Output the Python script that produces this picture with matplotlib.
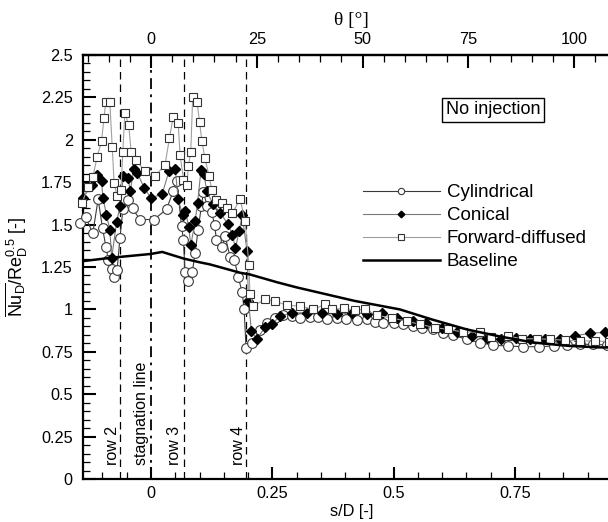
import matplotlib
matplotlib.use('Agg')
import matplotlib.pyplot as plt
import numpy as np
from matplotlib.ticker import MultipleLocator, FixedLocator, FuncFormatter

plt.rcParams['font.family'] = ['Liberation Sans', 'DejaVu Sans']
plt.rcParams['mathtext.fontset'] = 'custom'
plt.rcParams['mathtext.rm'] = 'Liberation Sans'
plt.rcParams['mathtext.it'] = 'Liberation Sans:italic'

# (s/D, Nu/Re^0.5)
cylindrical = [(-0.146, 1.51), (-0.135, 1.545), (-0.120, 1.45), (-0.109, 1.65), (-0.100, 1.48),
               (-0.093, 1.37), (-0.088, 1.29), (-0.081, 1.24), (-0.077, 1.19), (-0.070, 1.23),
               (-0.064, 1.42), (-0.058, 1.59), (-0.048, 1.645), (-0.038, 1.595), (-0.023, 1.53),
               (0.006, 1.53), (0.032, 1.59), (0.046, 1.70), (0.053, 1.76), (0.063, 1.49),
               (0.067, 1.41), (0.070, 1.22), (0.077, 1.17), (0.085, 1.22), (0.091, 1.33),
               (0.097, 1.47), (0.104, 1.61), (0.108, 1.69), (0.116, 1.61), (0.125, 1.575),
               (0.131, 1.50), (0.135, 1.41), (0.146, 1.37), (0.153, 1.43), (0.163, 1.31),
               (0.172, 1.29), (0.180, 1.19), (0.188, 1.10), (0.192, 1.00), (0.196, 0.77),
               (0.208, 0.80), (0.225, 0.88), (0.239, 0.92), (0.256, 0.95), (0.273, 0.965),
               (0.290, 0.96), (0.307, 0.95), (0.328, 0.957), (0.345, 0.955), (0.362, 0.945),
               (0.383, 0.95), (0.403, 0.945), (0.424, 0.94), (0.445, 0.945), (0.462, 0.925),
               (0.479, 0.92), (0.500, 0.918), (0.520, 0.912), (0.541, 0.90), (0.558, 0.89),
               (0.582, 0.882), (0.603, 0.863), (0.623, 0.847), (0.651, 0.824), (0.678, 0.804),
               (0.706, 0.788), (0.737, 0.784), (0.768, 0.78), (0.799, 0.78), (0.830, 0.784),
               (0.857, 0.788), (0.885, 0.794), (0.912, 0.794), (0.940, 0.79)]

conical = [(-0.140, 1.657), (-0.122, 1.735), (-0.111, 1.794), (-0.102, 1.755), (-0.099, 1.657),
           (-0.092, 1.559), (-0.085, 1.47), (-0.081, 1.304), (-0.071, 1.514), (-0.064, 1.608),
           (-0.057, 1.784), (-0.047, 1.775), (-0.043, 1.696), (-0.035, 1.828), (-0.028, 1.804),
           (-0.014, 1.716), (0.000, 1.657), (0.023, 1.68), (0.037, 1.814), (0.050, 1.828),
           (0.056, 1.651), (0.065, 1.559), (0.071, 1.578), (0.078, 1.485), (0.082, 1.377),
           (0.091, 1.52), (0.096, 1.627), (0.103, 1.82), (0.109, 1.80), (0.115, 1.696),
           (0.128, 1.62), (0.143, 1.569), (0.158, 1.505), (0.168, 1.44), (0.174, 1.36),
           (0.182, 1.465), (0.188, 1.555), (0.198, 1.343), (0.201, 1.05), (0.207, 0.872),
           (0.218, 0.824), (0.235, 0.894), (0.249, 0.912), (0.266, 0.96), (0.290, 0.98),
           (0.321, 0.98), (0.352, 0.98), (0.383, 0.97), (0.414, 0.98), (0.445, 0.975),
           (0.476, 0.976), (0.507, 0.95), (0.541, 0.93), (0.568, 0.92), (0.600, 0.89),
           (0.630, 0.865), (0.661, 0.843), (0.692, 0.833), (0.722, 0.826), (0.752, 0.833),
           (0.781, 0.824), (0.812, 0.826), (0.843, 0.826), (0.874, 0.845), (0.905, 0.859),
           (0.936, 0.865)]

forward_diffused = [(-0.142, 1.63), (-0.130, 1.72), (-0.120, 1.78), (-0.111, 1.90), (-0.102, 1.99),
                    (-0.097, 2.13), (-0.093, 2.225), (-0.085, 2.225), (-0.080, 1.96), (-0.076, 1.745),
                    (-0.070, 1.667), (-0.062, 1.706), (-0.058, 1.93), (-0.054, 2.157), (-0.046, 2.088),
                    (-0.041, 1.93), (-0.030, 1.88), (-0.013, 1.814), (0.008, 1.784), (0.029, 1.853),
                    (0.038, 2.01), (0.046, 2.137), (0.056, 2.10), (0.060, 1.91), (0.067, 1.765),
                    (0.074, 1.735), (0.077, 1.843), (0.082, 1.93), (0.086, 2.255), (0.095, 2.22),
                    (0.100, 2.107), (0.105, 1.99), (0.111, 1.892), (0.120, 1.784), (0.125, 1.706),
                    (0.134, 1.647), (0.146, 1.625), (0.156, 1.598), (0.168, 1.569), (0.184, 1.651),
                    (0.194, 1.52), (0.202, 1.259), (0.204, 1.088), (0.211, 1.02), (0.235, 1.059),
                    (0.256, 1.049), (0.280, 1.024), (0.307, 1.02), (0.335, 1.00), (0.359, 1.03),
                    (0.373, 1.00), (0.397, 1.006), (0.420, 0.996), (0.441, 1.00), (0.465, 0.965),
                    (0.496, 0.95), (0.527, 0.93), (0.555, 0.912), (0.586, 0.892), (0.613, 0.882),
                    (0.644, 0.866), (0.678, 0.866), (0.702, 0.839), (0.737, 0.843), (0.764, 0.827),
                    (0.795, 0.827), (0.823, 0.824), (0.854, 0.818), (0.885, 0.814), (0.915, 0.814),
                    (0.945, 0.81)]

baseline = [(-0.142, 1.284), (-0.084, 1.304), (0.000, 1.327), (0.023, 1.339), (0.067, 1.30),
            (0.100, 1.278), (0.122, 1.265), (0.184, 1.216), (0.204, 1.206), (0.260, 1.16),
            (0.300, 1.13), (0.348, 1.098), (0.420, 1.05), (0.513, 1.00), (0.580, 0.94),
            (0.651, 0.882), (0.720, 0.84), (0.788, 0.805), (0.860, 0.785), (0.926, 0.776),
            (0.970, 0.774)]

row_lines = [('row 2', -0.064, -0.080), ('row 3', 0.068, 0.049), ('row 4', 0.195, 0.181)]
stagnation = ('stagnation line', 0.0, -0.019)
theta_ticks = [0, 25, 50, 75, 100]

fig = plt.figure(figsize=(6.08, 5.22), dpi=100)
W, H = 608, 522
ax = fig.add_axes([82.5 / W, 43 / H, (620 - 82.5) / W, 424 / H])
x0 = (82.5 - 151) / 485
x1 = (620 - 151) / 485
ax.set_xlim(x0, x1)
ax.set_ylim(0, 2.5)

c = np.array(cylindrical).T
k = np.array(conical).T
f = np.array(forward_diffused).T
b = np.array(baseline).T

ax.plot(c[0], c[1], '-', color='#3a3a3a', lw=0.8, marker='o', ms=7, mfc='white',
        mec='#3a3a3a', mew=0.8, label='Cylindrical', clip_on=False, zorder=3)
ax.plot(k[0], k[1], '-', color='#7a7a7a', lw=0.8, marker='D', ms=5.2, mfc='black',
        mec='black', label='Conical', clip_on=False, zorder=4)
ax.plot(f[0], f[1], '-', color='#a0a0a0', lw=0.8, marker='s', ms=6.3, mfc='white',
        mec='#333333', mew=0.8, label='Forward-diffused', clip_on=False, zorder=5)
ax.plot(b[0], b[1], '-', color='black', lw=1.8, label='Baseline', zorder=6)

for name, xl, xt in row_lines:
    ax.axvline(xl, color='black', lw=0.9, ls=(0, (6, 4)), zorder=2)
    ax.text(xt, 0.08, name, rotation=90, ha='center', va='bottom', fontsize=11.5)
ax.axvline(stagnation[1], color='black', lw=1.3, ls=(0, (6, 3, 1.5, 3)), zorder=2)
ax.text(stagnation[2], 0.08, stagnation[0], rotation=90, ha='center', va='bottom', fontsize=11.5)

ax.xaxis.set_major_locator(MultipleLocator(0.25))
ax.xaxis.set_minor_locator(MultipleLocator(0.05))
ax.yaxis.set_major_locator(MultipleLocator(0.25))
ax.yaxis.set_minor_locator(MultipleLocator(0.05))
fmt = FuncFormatter(lambda v, p: f'{v:g}')
ax.xaxis.set_major_formatter(fmt)
ax.yaxis.set_major_formatter(fmt)
ax.tick_params(which='both', direction='in', top=False, right=False, labelsize=11.7)
ax.tick_params(which='major', length=9, width=1.5)
ax.tick_params(which='minor', length=5, width=0.9)
ax.tick_params(axis='y', pad=7)
ax.tick_params(axis='x', pad=5)
for sp in ax.spines.values():
    sp.set_linewidth(1.6)

ax.set_xlabel('s/D [-]', fontsize=11.7, labelpad=2)
ax.set_ylabel(r'$\overline{\mathrm{Nu}_\mathrm{D}}/\mathrm{Re}_\mathrm{D}^{0.5}$ [-]', fontsize=13)
ax.yaxis.set_label_coords(-0.098, 0.5)

top = ax.secondary_xaxis('top', functions=(lambda s: s * 360 / np.pi, lambda t: t * np.pi / 360))
top.xaxis.set_major_locator(FixedLocator(theta_ticks))
top.xaxis.set_minor_locator(MultipleLocator(5))
top.xaxis.set_major_formatter(fmt)
top.tick_params(which='both', direction='in', labelsize=11.7, pad=6)
top.tick_params(which='major', length=9, width=1.5)
top.tick_params(which='minor', length=5, width=0.9)
top.spines['top'].set_linewidth(1.6)
top.set_xlabel('θ [°]', fontsize=14, family='Liberation Serif', labelpad=5)

leg = ax.legend(loc='upper left', bbox_to_anchor=(363 / W, 1 - 184 / H),
                bbox_transform=fig.transFigure, frameon=False, fontsize=13.5,
                handlelength=4.1, handletextpad=0.37, labelspacing=0.32,
                borderpad=0, borderaxespad=0, markerscale=0.65)

fig.text(493 / W, 1 - 110 / H, 'No injection', ha='center', va='center', fontsize=13,
         bbox=dict(boxstyle='square,pad=0.22', fc='white', ec='black', lw=1))

fig.savefig('out.png', dpi=100)
